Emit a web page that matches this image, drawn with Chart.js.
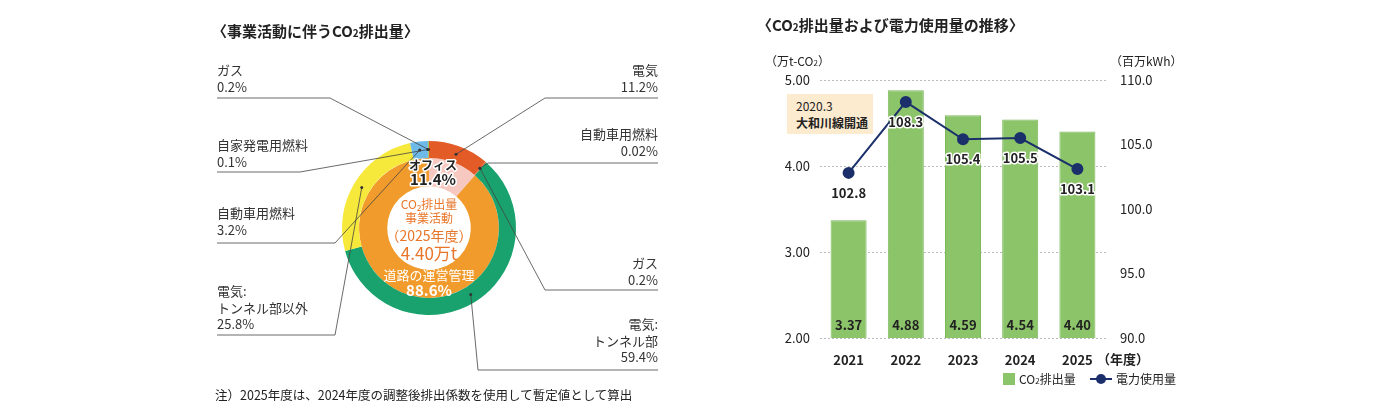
<!DOCTYPE html>
<html><head><meta charset="utf-8">
<script src="https://cdn.jsdelivr.net/npm/chart.js@4"></script>
<style>
body{margin:0;width:1400px;height:420px;background:#fff;font-family:"Noto Sans CJK JP","Noto Sans",sans-serif;color:#222;position:relative;overflow:hidden}
.abs{position:absolute;white-space:nowrap}
#c1w{position:absolute;left:0;top:0;width:700px;height:420px}
#c2w{position:absolute;left:700px;top:0;width:700px;height:420px}
.t{font-size:15px;font-weight:bold}
</style></head><body>
<div id="c1w"><canvas id="c1"></canvas></div>
<div id="c2w"><canvas id="c2"></canvas></div>
<div class="abs t" style="left:212px;top:20px">〈事業活動に伴うCO<span style="font-size:10px">2</span>排出量〉</div>
<div class="abs t" style="left:757px;top:14px">〈CO<span style="font-size:10px">2</span>排出量および電力使用量の推移〉</div>
<div class="abs" style="left:215px;top:385px;font-size:12.5px">注）2025年度は、2024年度の調整後排出係数を使用して暫定値として算出</div>
<div class="abs" style="left:765px;top:52px;font-size:12px">（万t-CO<span style="font-size:8px">2</span>）</div>
<div class="abs" style="left:1110px;top:52px;font-size:12px">（百万kWh）</div>
<div class="abs" style="left:787px;top:94px;width:86px;height:40px;background:#FDEBD0;font-size:12px;line-height:17px;padding:3px 0 0 9px;box-sizing:border-box">2020.3<br><b style="font-weight:600">大和川線開通</b></div>
<div class="abs" style="left:1003px;top:373px;width:12px;height:12px;background:#8CC46A"></div>
<div class="abs" style="left:1019px;top:370px;font-size:12px">CO<span style="font-size:8px">2</span>排出量</div>
<div class="abs" style="left:1090px;top:378px;width:22px;height:2px;background:#1B2F6B"></div>
<div class="abs" style="left:1096px;top:374px;width:10px;height:10px;border-radius:50%;background:#1B2F6B"></div>
<div class="abs" style="left:1116px;top:370px;font-size:12px">電力使用量</div>
<script>
// ---- donut data ----
const outerLabels=["電気(オフィス)","自動車用燃料(オフィス)","ガス(オフィス)","電気:トンネル部","電気:トンネル部以外","自動車用燃料","自家発電用燃料","ガス"];
const outerValues=[11.2,0.02,0.2,59.4,25.8,3.2,0.1,0.2];
const outerColors=["#E35B27","#E35B27","#E35B27","#19A26D","#F7E93C","#6DBAE9","#3C8FC9","#9BCB6B"];
const innerLabels=["オフィス","道路の運営管理"];
const innerValues=[11.4,88.6];
const innerColors=["#F7C8C0","#F09B2B"];
// ---- bar/line data ----
const years=["2021","2022","2023","2024","2025"];
const co2=[3.37,4.88,4.59,4.54,4.40];
const power=[102.8,108.3,105.4,105.5,103.1];
const yLeftTicks=[2,3,4,5];
const yRightTicks=[90,95,100,105,110];

// label layout: [segmentIndex, lines, textX, textY, align, lineY, bendX]
const callouts=[
 [7,["ガス","0.2%"],217,72,"left",98,330],
 [6,["自家発電用燃料","0.1%"],217,147,"left",172,300],
 [5,["自動車用燃料","3.2%"],217,215,"left",243,335],
 [4,["電気:","トンネル部以外","25.8%"],217,293,"left",335,335],
 [0,["電気","11.2%"],658,72,"right",98,545],
 [1,["自動車用燃料","0.02%"],658,136,"right",163,488],
 [2,["ガス","0.2%"],658,265,"right",290,545],
 [3,["電気:","トンネル部","59.4%"],658,326,"right",370,478]
];
const F='"Noto Sans CJK JP","Noto Sans",sans-serif';
const donutPlugin={id:'dp',afterDraw(ch){
 const c=ch.ctx;const arcs=ch.getDatasetMeta(0).data;
 c.save();c.strokeStyle="#444";c.lineWidth=0.8;c.fillStyle="#333";c.font="13px "+F;c.textBaseline="top";
 callouts.forEach(([i,lines,tx,ty,al,ly,bx])=>{
  const a=arcs[i];const ang=(a.startAngle+a.endAngle)/2;const r=(a.innerRadius+a.outerRadius)/2;
  const px=a.x+Math.cos(ang)*r,py=a.y+Math.sin(ang)*r;
  c.textAlign=al;lines.forEach((l,k)=>c.fillText(l,tx,ty-8+k*16.5));
  c.beginPath();c.moveTo(tx,ly);c.lineTo(bx,ly);c.lineTo(px,py);c.stroke();
  c.beginPath();c.arc(px,py,1.5,0,7);c.fill();
 });
 const m=arcs[0];const cx=m.x,cy=m.y;
 c.textAlign="center";c.textBaseline="middle";
 c.fillStyle="#E8762A";c.font="12px "+F;
 c.fillText("CO₂排出量",cx,cy-24);c.fillText("事業活動",cx,cy-10);
 c.font="14px "+F;c.fillText("（2025年度）",cx,cy+8);
 c.font="17px "+F;c.fillText("4.40万t",cx,cy+26);
 c.lineJoin="round";c.strokeStyle="#fff";c.lineWidth=3;
 c.font="bold 12px "+F;c.strokeText("オフィス",cx+4,cy-63);c.fillStyle="#222";c.fillText("オフィス",cx+4,cy-63);
 c.font="bold 15px "+F;c.strokeText("11.4%",cx+4,cy-49);c.fillText("11.4%",cx+4,cy-49);
 c.fillStyle="#fff";c.font="13px "+F;c.fillText("道路の運営管理",cx,cy+47);
 c.font="bold 15px "+F;c.fillText("88.6%",cx,cy+62);
 c.restore();
}};
new Chart(document.getElementById('c1'),{type:'doughnut',
 data:{labels:outerLabels,datasets:[
  {data:outerValues,backgroundColor:outerColors,borderWidth:0,weight:17},
  {data:innerValues,backgroundColor:innerColors,borderWidth:0,weight:28}]},
 options:{responsive:true,maintainAspectRatio:false,animation:false,cutout:'48%',
  layout:{padding:{left:342,right:184,top:141,bottom:105}},
  plugins:{legend:{display:false},tooltip:{enabled:false}}},
 plugins:[donutPlugin]});

const valPlugin={id:'vp',afterDatasetsDraw(ch){
 const c=ch.ctx;c.save();c.textAlign="center";c.textBaseline="middle";c.fillStyle="#222";
 c.font="bold 13px "+F;
 const y0=ch.scales.y.getPixelForValue(2);
 ch.getDatasetMeta(1).data.forEach((b,i)=>c.fillText(co2[i].toFixed(2),b.x,y0-13));
 c.lineJoin="round";c.strokeStyle="#fff";c.lineWidth=3;
 ch.getDatasetMeta(0).data.forEach((p,i)=>{const t=power[i].toFixed(1);c.strokeText(t,p.x,p.y+20);c.fillText(t,p.x,p.y+20);});
 c.restore();
}};
new Chart(document.getElementById('c2'),{
 data:{labels:years,datasets:[
  {type:'line',data:power,yAxisID:'y2',borderColor:'#1B2F6B',backgroundColor:'#1B2F6B',borderWidth:2,pointRadius:5,tension:0,order:0},
  {type:'bar',data:co2,yAxisID:'y',backgroundColor:'#8CC46A',borderColor:'#7BB85A',borderWidth:1,barPercentage:0.63,categoryPercentage:1,order:1}]},
 options:{responsive:true,maintainAspectRatio:false,animation:false,
  layout:{padding:{top:80,left:0,right:0,bottom:0}},
  plugins:{legend:{display:false},tooltip:{enabled:false}},
  scales:{
   x:{grid:{display:false},border:{display:false},ticks:{color:'#222',font:{size:13,weight:'bold',family:F},padding:6,callback:(v,i)=>years[i]},afterFit(s){s.height=82;}},
   y:{position:'left',min:2,max:5,afterBuildTicks(s){s.ticks=yLeftTicks.map(v=>({value:v}));},
      ticks:{color:'#222',font:{size:13,family:F},padding:10,callback:v=>v.toFixed(2)},
      grid:{color:'#bbb',drawTicks:false},border:{display:false,dash:[2,2]},afterFit(s){s.width=120;}},
   y2:{position:'right',min:90,max:110,afterBuildTicks(s){s.ticks=yRightTicks.map(v=>({value:v}));},
      ticks:{color:'#222',font:{size:13,family:F},padding:6,callback:v=>v.toFixed(1)},
      grid:{display:false},border:{display:false},afterFit(s){s.width=294;}}
  }},
 plugins:[valPlugin]});
</script>
<div class="abs" style="left:1097px;top:349px;font-size:13px;font-weight:bold">（年度）</div>
</body></html>
